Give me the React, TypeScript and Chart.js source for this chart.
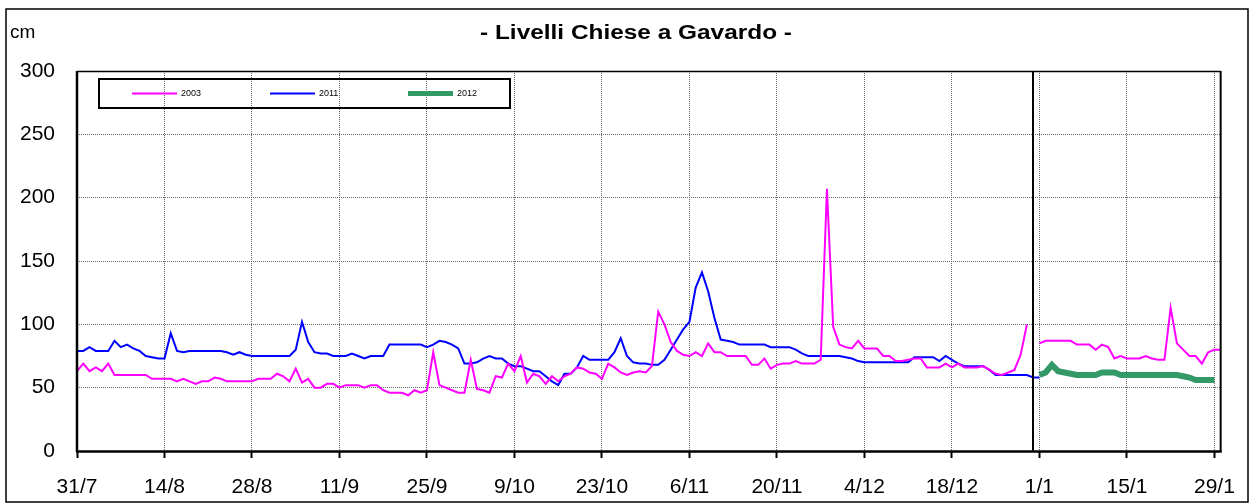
import { useEffect, useRef } from "react";
import { Chart, registerables } from "chart.js";

Chart.register(...registerables);

// ---- data (days counted from 31/7) ----
const tickDays = [0, 14, 28, 42, 56, 70, 84, 98, 112, 126, 140, 154, 168, 182];
const tickLabels = ["31/7", "14/8", "28/8", "11/9", "25/9", "9/10", "23/10", "6/11", "20/11", "4/12", "18/12", "1/1", "15/1", "29/1"];
const seriesNames = ["2003", "2011", "2012"];

const levels2003: (number | null)[] = [
  63, 69, 63, 66, 63, 69, 60, 60, 60, 60,
  60, 60, 57, 57, 57, 57, 55, 57, 55, 53,
  55, 55, 58, 57, 55, 55, 55, 55, 55, 57,
  57, 57, 61, 59, 55, 65, 54, 57, 50, 50,
  53, 53, 50, 52, 52, 52, 50, 52, 52, 48,
  46, 46, 46, 44, 48, 46, 48, 78, 52, 50,
  48, 46, 46, 72, 49, 48, 46, 59, 58, 69,
  63, 75, 54, 61, 59, 53, 59, 55, 59, 61,
  66, 65, 62, 61, 57, 69, 66, 62, 60, 62,
  63, 62, 67, 110, 100, 86, 79, 76, 75, 78,
  75, 85, 78, 78, 75, 75, 75, 75, 68, 68,
  73, 65, 68, 69, 69, 71, 69, 69, 69, 72,
  207, 98, 84, 82, 81, 87, 81, 81, 81, 75,
  75, 71, 71, 72, 73, 73, 66, 66, 66, 69,
  66, 69, 66, 66, 66, 67, 64, 61, 60, 62,
  64, 76, 100, null, 85, 87, 87, 87, 87, 87,
  84, 84, 84, 80, 84, 82, 73, 75, 73, 73,
  73, 75, 73, 72, 72, 113, 85, 80, 75, 75,
  69, 78, 80, 80,
];

const levels2011: number[] = [
  79, 79, 82, 79, 79, 79, 87, 82, 84, 81,
  79, 75, 74, 73, 73, 93, 79, 78, 79, 79,
  79, 79, 79, 79, 78, 76, 78, 76, 75, 75,
  75, 75, 75, 75, 75, 80, 102, 86, 78, 77,
  77, 75, 75, 75, 77, 75, 73, 75, 75, 75,
  84, 84, 84, 84, 84, 84, 82, 84, 87, 86,
  84, 81, 69, 69, 70, 73, 75, 73, 73, 69,
  67, 67, 65, 63, 63, 59, 55, 52, 61, 61,
  66, 75, 72, 72, 72, 72, 78, 89, 75, 70,
  69, 69, 68, 68, 72, 80, 88, 96, 102, 129,
  141, 126, 105, 88, 87, 86, 84, 84, 84, 84,
  84, 82, 82, 82, 82, 80, 77, 75, 75, 75,
  75, 75, 75, 74, 73, 71, 70, 70, 70, 70,
  70, 70, 70, 70, 74, 74, 74, 74, 71, 75,
  72, 69, 67, 67, 67, 67, 64, 60, 60, 60,
  60, 60, 60, 58, 58,
];

const start2012 = 154;
const levels2012: number[] = [
  60, 62, 68, 63, 62, 61, 60, 60, 60, 60,
  62, 62, 62, 60, 60, 60, 60, 60, 60, 60,
  60, 60, 60, 59, 58, 56, 56, 56, 56,
];

const yearBreakDay = 153;
const xMin = 0;
const xMax = 183;
const yMin = 0;
const yMax = 300;
const yStep = 50;

const FONT = '"Liberation Sans", Arial, sans-serif';

const decorPlugin = {
  id: "decor",
  afterDraw(chart: any) {
    const { ctx, chartArea } = chart;
    const { left, top, right, bottom } = chartArea;
    ctx.save();
    // year break line
    const xb = Math.round(chart.scales.x.getPixelForValue(yearBreakDay));
    ctx.strokeStyle = "#000";
    ctx.lineWidth = 2;
    ctx.beginPath();
    ctx.moveTo(xb, top);
    ctx.lineTo(xb, bottom);
    ctx.stroke();
    // plot frame
    ctx.lineWidth = 1.5;
    ctx.beginPath();
    ctx.moveTo(left, top + 0.5);
    ctx.lineTo(right, top + 0.5);
    ctx.stroke();
    ctx.lineWidth = 2;
    ctx.beginPath();
    ctx.moveTo(right, top);
    ctx.lineTo(right, bottom + 1);
    ctx.stroke();
    ctx.lineWidth = 2.5;
    ctx.beginPath();
    ctx.moveTo(left, top);
    ctx.lineTo(left, bottom + 1);
    ctx.moveTo(left - 1, bottom + 0.5);
    ctx.lineTo(right + 1, bottom + 0.5);
    ctx.stroke();
    // outer frame
    ctx.lineWidth = 1.5;
    ctx.strokeRect(6, 9, 1242, 493);
    // title and unit
    ctx.fillStyle = "#000";
    ctx.textBaseline = "middle";
    ctx.textAlign = "center";
    ctx.font = `bold 20px ${FONT}`;
    ctx.save();
    ctx.translate(636, 33);
    ctx.scale(1.22, 1);
    ctx.fillText("- Livelli Chiese a Gavardo -", 0, 0);
    ctx.restore();
    ctx.textAlign = "left";
    ctx.font = `19px ${FONT}`;
    ctx.fillText("cm", 10, 33);
    // legend
    ctx.lineWidth = 2;
    ctx.strokeRect(99, 79, 411, 29);
    ctx.font = `9px ${FONT}`;
    chart.data.datasets.forEach((ds: any, i: number) => {
      const x0 = 132 + i * 138;
      ctx.strokeStyle = ds.borderColor;
      ctx.lineWidth = i === 2 ? 5 : 2;
      ctx.beginPath();
      ctx.moveTo(x0, 93.5);
      ctx.lineTo(x0 + 45, 93.5);
      ctx.stroke();
      ctx.fillStyle = "#000";
      ctx.fillText(ds.label, x0 + 49, 94);
    });
    ctx.restore();
  },
};

export default function App() {
  const ref = useRef<HTMLCanvasElement>(null);
  useEffect(() => {
    if (!ref.current) return;
    const chart = new Chart(ref.current, {
      type: "line",
      data: {
        datasets: [
          {
            label: seriesNames[0],
            data: levels2003.map((v, i) => ({ x: i, y: v })),
            borderColor: "#FF00FF",
            borderWidth: 2,
            pointRadius: 0,
            spanGaps: false,
          },
          {
            label: seriesNames[1],
            data: levels2011.map((v, i) => ({ x: i, y: v })),
            borderColor: "#0000FF",
            borderWidth: 2,
            pointRadius: 0,
          },
          {
            label: seriesNames[2],
            data: levels2012.map((v, i) => ({ x: start2012 + i, y: v })),
            borderColor: "#339966",
            borderWidth: 6,
            pointRadius: 0,
          },
        ],
      },
      options: {
        animation: false,
        responsive: false,
        events: [],
        layout: { padding: { left: 0, top: 71, right: 30, bottom: 0 } },
        plugins: {
          legend: { display: false },
          title: { display: false },
          tooltip: { enabled: false },
        },
        elements: { line: { tension: 0 } },
        scales: {
          x: {
            type: "linear",
            min: xMin,
            max: xMax,
            afterBuildTicks: (s: any) => {
              s.ticks = tickDays.map((v) => ({ value: v }));
            },
            afterFit: (s: any) => {
              s.height = 52;
            },
            grid: {
              color: "#666",
              lineWidth: 1,
              drawTicks: true,
              tickLength: 7,
              tickColor: "#000",
              tickWidth: 2,
              tickBorderDash: [],
            },
            border: { display: false, dash: [1, 1] },
            ticks: {
              autoSkip: false,
              maxRotation: 0,
              color: "#000",
              padding: 17,
              font: { family: FONT, size: 21 },
              callback: (v: any) => {
                const k = tickDays.indexOf(Number(v));
                return k >= 0 ? tickLabels[k] : "";
              },
            },
          },
          y: {
            min: yMin,
            max: yMax,
            afterFit: (s: any) => {
              s.width = 77;
            },
            grid: { color: "#666", lineWidth: 1, drawTicks: false },
            border: { display: false, dash: [1, 1] },
            ticks: {
              stepSize: yStep,
              color: "#000",
              padding: 22,
              font: { family: FONT, size: 21 },
            },
          },
        },
      },
      plugins: [decorPlugin],
    } as any);
    return () => chart.destroy();
  }, []);
  return (
    <canvas
      ref={ref}
      width={1252}
      height={503}
      style={{ position: "absolute", left: 0, top: 0, display: "block" }}
    />
  );
}
